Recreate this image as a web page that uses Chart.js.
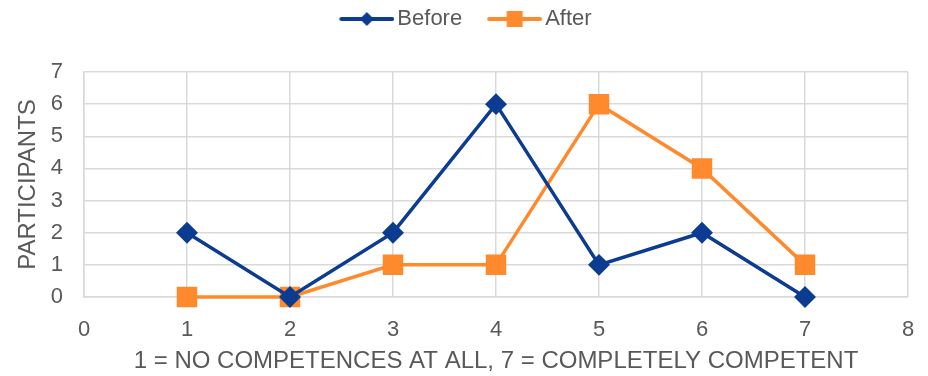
<!DOCTYPE html>
<html>
<head>
<meta charset="utf-8">
<script src="https://cdn.jsdelivr.net/npm/chart.js@4"></script>
<style>
  html, body { margin: 0; padding: 0; background: #fff; }
  #wrap { width: 928px; height: 376px; }
</style>
</head>
<body>
<div id="wrap"><canvas id="myChart"></canvas></div>
<script>
// competence rating 1..7, number of participants
var ratings = [1, 2, 3, 4, 5, 6, 7];
var before = [2, 0, 2, 6, 1, 2, 0];
var after = [0, 0, 1, 1, 6, 4, 1];
var xTicks = [0, 1, 2, 3, 4, 5, 6, 7, 8];
var yTicks = [0, 1, 2, 3, 4, 5, 6, 7];

var BLUE = "#0c3c92";
var ORANGE = "#ff8a2e";

function toPoints(ys) {
  return ratings.map(function (x, i) { return { x: x, y: ys[i] }; });
}

// legend icon: short line with the marker in the middle,
// blank space on the left acts as the gap between items
function legendIcon(color, shape) {
  var c = document.createElement("canvas");
  c.width = 80;
  c.height = 18;
  var g = c.getContext("2d");
  g.strokeStyle = color;
  g.lineWidth = 4;
  g.lineCap = "round";
  g.beginPath();
  g.moveTo(27, 9);
  g.lineTo(78, 9);
  g.stroke();
  g.fillStyle = color;
  var cx = 52.5;
  if (shape === "diamond") {
    g.beginPath();
    g.moveTo(cx, 2);
    g.lineTo(cx + 7, 9);
    g.lineTo(cx, 16);
    g.lineTo(cx - 7, 9);
    g.closePath();
    g.fill();
  } else {
    g.fillRect(cx - 8, 1, 16, 16);
  }
  return c;
}

var icons = [legendIcon(BLUE, "diamond"), legendIcon(ORANGE, "square")];

// extra gap under the legend
var legendGap = {
  id: "legendGap",
  beforeInit: function (chart) {
    var fit = chart.legend.fit;
    chart.legend.fit = function () {
      fit.call(this);
      this.height += 32;
    };
  }
};

Chart.defaults.font.family = "'Liberation Sans', Arial, sans-serif";
Chart.defaults.color = "#595959";

var ctx = document.getElementById("myChart").getContext("2d");
var chart = new Chart(ctx, {
  type: "line",
  data: {
    datasets: [
      {
        label: "Before",
        data: toPoints(before),
        borderColor: BLUE,
        backgroundColor: BLUE,
        borderWidth: 3.5,
        pointStyle: "rectRot",
        pointRadius: 8.5,
        pointHoverRadius: 8.5,
        tension: 0,
        clip: false
      },
      {
        label: "After",
        data: toPoints(after),
        borderColor: ORANGE,
        backgroundColor: ORANGE,
        borderWidth: 3.5,
        pointStyle: "rect",
        pointRadius: 12,
        pointHoverRadius: 12,
        tension: 0,
        clip: false
      }
    ]
  },
  plugins: [legendGap],
  options: {
    responsive: true,
    maintainAspectRatio: false,
    animation: false,
    layout: { padding: { left: 0, right: 14, top: 0, bottom: 0 } },
    plugins: {
      tooltip: { enabled: false },
      legend: {
        position: "top",
        labels: {
          usePointStyle: true,
          pointStyleWidth: 64,
          boxHeight: 18,
          padding: 8,
          font: { size: 22 },
          color: "#595959",
          generateLabels: function (chart) {
            return chart.data.datasets.map(function (ds, i) {
              return {
                text: ds.label,
                pointStyle: icons[i],
                fillStyle: ds.borderColor,
                strokeStyle: ds.borderColor,
                lineWidth: 0,
                datasetIndex: i,
                fontColor: "#595959"
              };
            });
          }
        }
      }
    },
    scales: {
      x: {
        type: "linear",
        min: 0,
        max: 8,
        afterBuildTicks: function (axis) {
          axis.ticks = xTicks.map(function (v) { return { value: v }; });
        },
        afterFit: function (axis) {
          axis.height = 79;
          axis.paddingLeft = 0;
          axis.paddingRight = 20;
        },
        grid: { color: "#d9d9d9", lineWidth: 1.5, drawTicks: false },
        border: { color: "#d9d9d9", width: 1.5 },
        ticks: { padding: 20, font: { size: 22 }, color: "#595959" },
        title: {
          display: true,
          text: "1 = NO COMPETENCES AT ALL, 7 = COMPLETELY COMPETENT",
          font: { size: 24 },
          color: "#595959",
          padding: { top: 0, bottom: 0 }
        }
      },
      y: {
        min: 0,
        max: 7,
        afterBuildTicks: function (axis) {
          axis.ticks = yTicks.map(function (v) { return { value: v }; });
        },
        afterFit: function (axis) {
          axis.width = 84;
        },
        grid: { color: "#d9d9d9", lineWidth: 1.5, drawTicks: false },
        border: { color: "#d9d9d9", width: 1.5 },
        ticks: { padding: 21, font: { size: 22 }, color: "#595959" },
        title: {
          display: true,
          text: "PARTICIPANTS",
          font: { size: 24 },
          color: "#595959",
          padding: { top: 14, bottom: 0 }
        }
      }
    }
  }
});
</script>
</body>
</html>
